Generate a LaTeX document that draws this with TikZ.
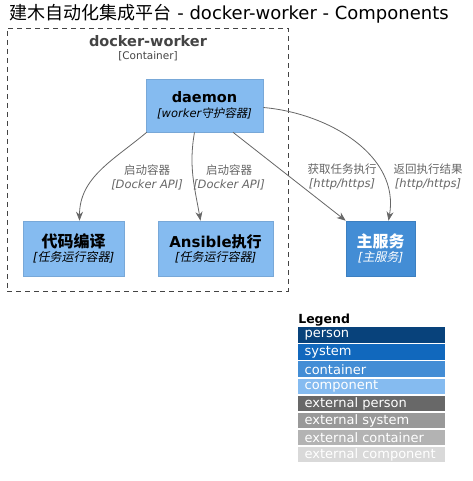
\documentclass[tikz,border=0pt]{standalone}
\usepackage{fontspec}
\setmainfont{DejaVu Sans}
\newfontfamily\cjk[ItalicFont={Noto Sans CJK SC}, ItalicFeatures={FakeSlant=0.2}]{Noto Sans CJK SC}
\newcommand\zh[1]{{\cjk #1}}
\usetikzlibrary{arrows.meta,positioning}

\definecolor{compfill}{HTML}{85BBF0}
\definecolor{compline}{HTML}{78A8D8}
\definecolor{contfill}{HTML}{438DD5}
\definecolor{contline}{HTML}{3C7FC0}
\definecolor{persfill}{HTML}{08427B}
\definecolor{sysfill}{HTML}{1168BD}
\definecolor{extpers}{HTML}{686868}
\definecolor{extsys}{HTML}{999999}
\definecolor{extcont}{HTML}{B3B3B3}
\definecolor{extcomp}{HTML}{D9D9D9}
\definecolor{relgray}{HTML}{666666}
\definecolor{bndgray}{HTML}{444444}

\begin{document}
\begin{tikzpicture}[x=1pt, y=1pt, >={Stealth[length=9pt, width=7pt]}, semithick,
    component/.style={draw=compline, fill=compfill, align=center, inner sep=0pt, minimum height=55pt},
    container/.style={draw=contline, fill=contfill, text=white, align=center, inner sep=0pt, minimum height=55pt},
    rel/.style={->, relgray, line width=0.8pt},
    rellabel/.style={text=relgray, align=center, font=\fontsize{11.5}{14}\selectfont},
    legendrow/.style={minimum width=147pt, minimum height=15.5pt, inner sep=0pt},
    lgtext/.style={anchor=west, xshift=3pt, text=white, font=\fontsize{13}{14}\selectfont}]
    \useasboundingbox (0,0) rectangle (472,481);

    \node[anchor=west] (title) at (6,467) {\fontsize{18}{21}\selectfont\zh{建木自动化集成平台} - docker-worker - Components};

    % container boundary
    \node[draw=bndgray, dash pattern=on 5pt off 4pt, line width=0.8pt, minimum width=281pt, minimum height=263pt] (worker) at (147.5,321.5) {};
    \node[text=bndgray, font=\bfseries\fontsize{14.5}{16}\selectfont] (workername) at (148,440) {docker-worker};
    \node[text=bndgray, font=\fontsize{10.5}{12}\selectfont] (workertype) at (148,425) {[Container]};

    \node[component, minimum width=117pt, minimum height=53pt] (daemon) at (204.5,375.5)
        {{\bfseries\fontsize{14.5}{16}\selectfont daemon}\\[3pt]{\itshape\fontsize{11.5}{13}\selectfont [worker\zh{守护容器}]}};
    \node[component, minimum width=101pt] (compile) at (73.5,232.5)
        {{\bfseries\fontsize{16}{18}\selectfont\zh{代码编译}}\\[2pt]{\itshape\fontsize{12}{13}\selectfont [\zh{任务运行容器}]}};
    \node[component, minimum width=115pt] (ansible) at (215.5,232.5)
        {{\bfseries\fontsize{15}{18}\selectfont Ansible\zh{执行}}\\[2pt]{\itshape\fontsize{12}{13}\selectfont [\zh{任务运行容器}]}};
    \node[container, minimum width=69pt] (mainsvc) at (380.5,232.5)
        {{\bfseries\fontsize{16}{18}\selectfont\zh{主服务}}\\[2pt]{\itshape\fontsize{12}{13}\selectfont [\zh{主服务}]}};

    \draw[rel] ([xshift=1pt]daemon.south west) to[out=-140, in=90] ([xshift=6pt]compile.north);
    \draw[rel] ([xshift=-10pt]daemon.south) to[out=-100, in=100] ([xshift=-15pt]ansible.north);
    \draw[rel] ([xshift=28.5pt]daemon.south) -- (mainsvc.north west);
    \draw[rel] ([yshift=-2pt]daemon.east) to[out=-5, in=80] ([xshift=8pt]mainsvc.north);

    \node[rellabel] (lbstart1) at (147,304) {\zh{启动容器}\\{\itshape [Docker API]}};
    \node[rellabel] (lbstart2) at (229,304) {\zh{启动容器}\\{\itshape [Docker API]}};
    \node[rellabel] (lbfetch) at (342,304) {\zh{获取任务执行}\\{\itshape [http/https]}};
    \node[rellabel] (lbreturn) at (428,304) {\zh{返回执行结果}\\{\itshape [http/https]}};

    % legend
    \node[anchor=west, inner sep=0pt, font=\bfseries\fontsize{12.5}{14}\selectfont] (legend) at (298,161) {Legend};
    \node[legendrow, fill=persfill, anchor=north west] (lgperson) at (298,154) {};
    \node[legendrow, fill=sysfill, below=1pt of lgperson] (lgsystem) {};
    \node[legendrow, fill=contfill, below=1pt of lgsystem] (lgcontainer) {};
    \node[legendrow, fill=compfill, below=1pt of lgcontainer] (lgcomponent) {};
    \node[legendrow, fill=extpers, below=1pt of lgcomponent] (lgextperson) {};
    \node[legendrow, fill=extsys, below=1pt of lgextperson] (lgextsystem) {};
    \node[legendrow, fill=extcont, below=1pt of lgextsystem] (lgextcontainer) {};
    \node[legendrow, fill=extcomp, below=1pt of lgextcontainer] (lgextcomponent) {};
    \node[lgtext] at (lgperson.west) {person};
    \node[lgtext] at (lgsystem.west) {system};
    \node[lgtext] at (lgcontainer.west) {container};
    \node[lgtext] at (lgcomponent.west) {component};
    \node[lgtext] at (lgextperson.west) {external person};
    \node[lgtext] at (lgextsystem.west) {external system};
    \node[lgtext] at (lgextcontainer.west) {external container};
    \node[lgtext] at (lgextcomponent.west) {external component};
\end{tikzpicture}
\end{document}
